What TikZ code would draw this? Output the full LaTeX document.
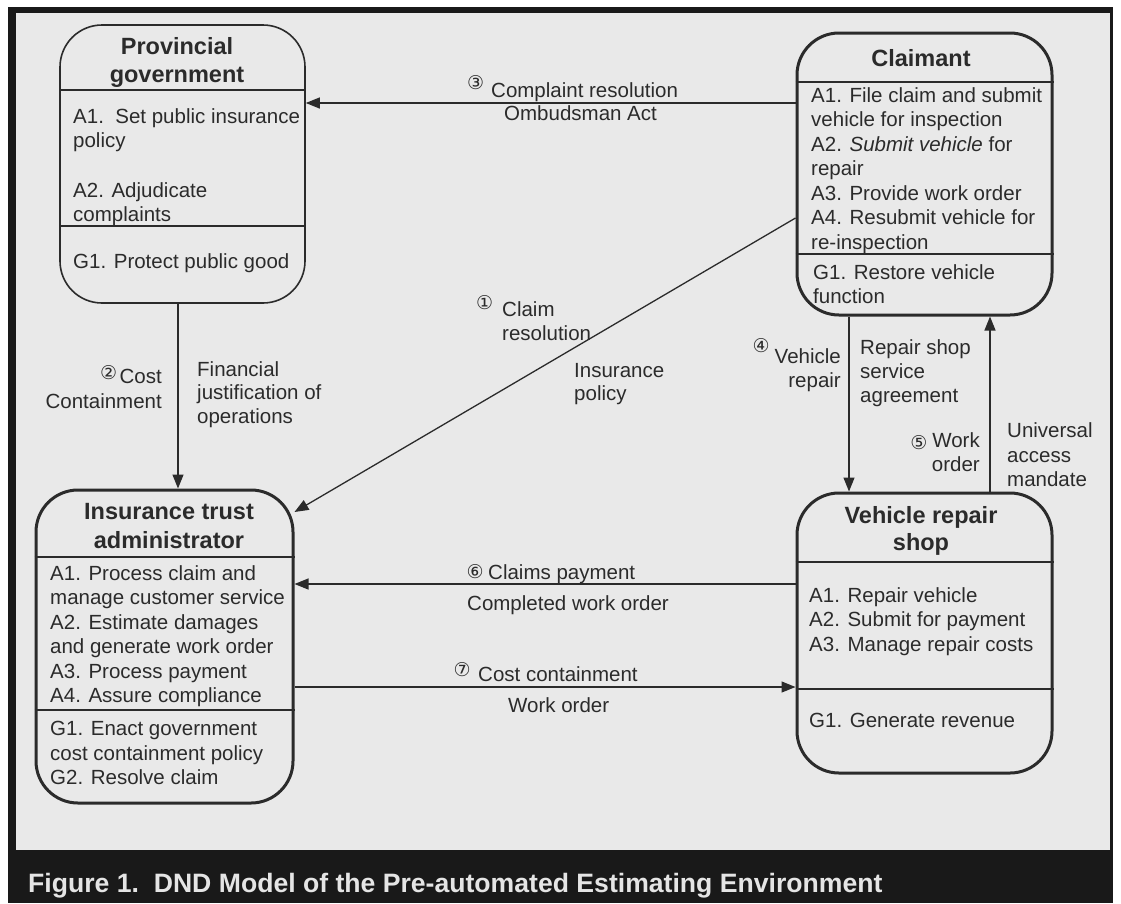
\documentclass[tikz,border=0pt]{standalone}
\usepackage{fontspec}
\setmainfont{Liberation Sans}
\newfontfamily\symfont{DejaVu Sans}
\usetikzlibrary{arrows.meta}
\definecolor{bgc}{gray}{0.915}
\definecolor{ink}{gray}{0.17}
\definecolor{capc}{gray}{0.90}
\newcommand\cnum[3]{\llap{\raisebox{#1}{\symfont\fontsize{19}{19}\selectfont #2}\hspace{#3}}}
\begin{document}
\begin{tikzpicture}[x=1pt,y=-1pt,
  box/.style={draw=ink, line width=3pt, rounded corners=42pt, fill=bgc, inner sep=0pt},
  div/.style={draw=ink, line width=1.3pt},
  arr/.style={draw=ink, line width=1.3pt, -{Triangle[length=14pt,width=11pt]}},
  tx/.style={inner sep=0pt, anchor=base west, text=ink, font=\fontsize{20.5}{24}\selectfont},
  tr/.style={tx, anchor=base east},
  tt/.style={inner sep=0pt, anchor=base, text=ink, font=\bfseries\fontsize{23.5}{28}\selectfont}]
\useasboundingbox (0,0) rectangle (1121,903);
\fill[white] (0,0) rectangle (1121,903);
\fill[black!90] (8,7) rectangle (1113,903);
\fill[bgc] (16,13) rectangle (1110,850);
% boxes
\node[box, line width=1.6pt, minimum width=245pt, minimum height=278pt] (prov) at (182.5,164) {};
\node[box, minimum width=255pt, minimum height=282pt] (claim) at (924.5,174) {};
\node[box, minimum width=257pt, minimum height=313pt] (ins) at (164.5,646.5) {};
\node[box, minimum width=255pt, minimum height=280pt] (shop) at (924.5,633) {};
% dividers
\draw[div] (prov.west |- 0,90) -- (prov.east |- 0,90);
\draw[div] (prov.west |- 0,226) -- (prov.east |- 0,226);
\draw[div] (claim.west |- 0,82) -- (claim.east |- 0,82);
\draw[div] (claim.west |- 0,254) -- (claim.east |- 0,254);
\draw[div] (ins.west |- 0,557) -- (ins.east |- 0,557);
\draw[div] (ins.west |- 0,710) -- (ins.east |- 0,710);
\draw[div] (shop.west |- 0,562) -- (shop.east |- 0,562);
\draw[div] (shop.west |- 0,689) -- (shop.east |- 0,689);
% provincial text
\node[tt] (provt1) at (177,54) {Provincial};
\node[tt] (provt2) at (177,82) {government};
\node[tx] (prova1) at (73,123) {A1.\ \ Set public insurance};
\node[tx] (prova1b) at (73,147) {policy};
\node[tx] (prova2) at (73,197) {A2. Adjudicate};
\node[tx] (prova2b) at (73,221) {complaints};
\node[tx] (provg1) at (73,268) {G1. Protect public good};
% claimant text
\node[tt] (claimt) at (921,66) {Claimant};
\node[tx] (cla1) at (811,102) {A1. File claim and submit};
\node[tx] (cla1b) at (811,126.5) {vehicle for inspection};
\node[tx] (cla2) at (811,151) {A2. \textit{Submit vehicle} for};
\node[tx] (cla2b) at (811,175.5) {repair};
\node[tx] (cla3) at (811,200) {A3. Provide work order};
\node[tx] (cla4) at (811,224.5) {A4. Resubmit vehicle for};
\node[tx] (cla4b) at (811,249) {re-inspection};
\node[tx] (clg1) at (813,279) {G1. Restore vehicle};
\node[tx] (clg1b) at (813,303) {function};
% insurance text
\node[tt] (inst1) at (169,519) {Insurance trust};
\node[tt] (inst2) at (169,548) {administrator};
\node[tx] (ina1) at (50,580) {A1. Process claim and};
\node[tx] (ina1b) at (50,604) {manage customer service};
\node[tx] (ina2) at (50,629) {A2. Estimate damages};
\node[tx] (ina2b) at (50,653) {and generate work order};
\node[tx] (ina3) at (50,678) {A3. Process payment};
\node[tx] (ina4) at (50,702) {A4. Assure compliance};
\node[tx] (ing1) at (50,735) {G1. Enact government};
\node[tx] (ing1b) at (50,760) {cost containment policy};
\node[tx] (ing2) at (50,784) {G2. Resolve claim};
% shop text
\node[tt] (shopt1) at (921,523) {Vehicle repair};
\node[tt] (shopt2) at (921,550) {shop};
\node[tx] (sha1) at (809,602) {A1. Repair vehicle};
\node[tx] (sha2) at (809,626) {A2. Submit for payment};
\node[tx] (sha3) at (809,651) {A3. Manage repair costs};
\node[tx] (shg1) at (809,727) {G1. Generate revenue};
% connectors
\draw[arr] (claim.west |- 0,103) -- (prov.east |- 0,103);
\draw[arr] (claim.west |- 0,218) -- (ins.east |- 0,512);
\draw[arr] (prov.south -| 178,0) -- (ins.north -| 178,0);
\draw[arr] (claim.south -| 849,0) -- (shop.north -| 849,0);
\draw[arr] (shop.north -| 990,0) -- (claim.south -| 990,0);
\draw[arr] (shop.west |- 0,584) -- (ins.east |- 0,584);
\draw[arr] (ins.east |- 0,687) -- (shop.west |- 0,687);
% connector labels
\node[tx] (l3a) at (491,97) {\cnum{8pt}{③}{7pt}Complaint resolution};
\node[tx] (l3b) at (504,120) {Ombudsman Act};
\node[tx] (l1a) at (502,316) {\cnum{7pt}{①}{9pt}Claim};
\node[tx] (l1b) at (502,340) {resolution};
\node[tx] (l1c) at (574,377) {Insurance};
\node[tx] (l1d) at (574,400) {policy};
\node[tr] (l2a) at (162,383) {\cnum{4pt}{②}{2.5pt}Cost};
\node[tr] (l2b) at (162,408) {Containment};
\node[tx] (l2c) at (197,376) {Financial};
\node[tx] (l2d) at (197,399) {justification of};
\node[tx] (l2e) at (197,423) {operations};
\node[tr] (l4a) at (841,363) {\cnum{11pt}{④}{5pt}Vehicle};
\node[tr] (l4b) at (841,387) {repair};
\node[tx] (l4c) at (860,354) {Repair shop};
\node[tx] (l4d) at (860,378) {service};
\node[tx] (l4e) at (860,402) {agreement};
\node[tr] (l5a) at (980,447) {\cnum{-2pt}{⑤}{5pt}Work};
\node[tr] (l5b) at (980,471) {order};
\node[tx] (l5c) at (1007,437) {Universal};
\node[tx] (l5d) at (1007,462) {access};
\node[tx] (l5e) at (1007,486) {mandate};
\node[tx] (l6a) at (488,579) {\cnum{1pt}{⑥}{4.5pt}Claims payment};
\node[tx] (l6b) at (467,610) {Completed work order};
\node[tx] (l7a) at (478,681) {\cnum{5pt}{⑦}{7.5pt}Cost containment};
\node[tx] (l7b) at (508,712) {Work order};
% caption
\node[inner sep=0pt, anchor=base west, text=capc, font=\bfseries\fontsize{26.6}{30}\selectfont] (cap) at (28,892) {Figure 1.\ \ DND Model of the Pre-automated Estimating Environment};
\end{tikzpicture}
\end{document}
